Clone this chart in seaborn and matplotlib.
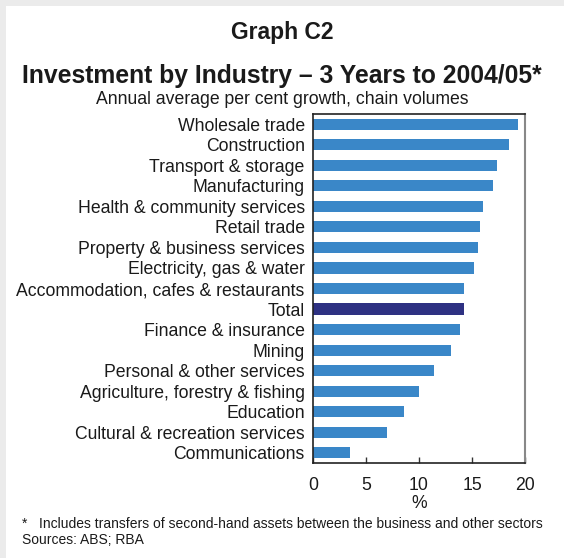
import matplotlib
matplotlib.use("Agg")
import matplotlib.pyplot as plt
import seaborn as sns
import pandas as pd
from matplotlib.patches import Rectangle

industries = [
    "Wholesale trade", "Construction", "Transport & storage", "Manufacturing",
    "Health & community services", "Retail trade", "Property & business services",
    "Electricity, gas & water", "Accommodation, cafes & restaurants", "Total",
    "Finance & insurance", "Mining", "Personal & other services",
    "Agriculture, forestry & fishing", "Education", "Cultural & recreation services",
    "Communications",
]
growth = [19.3, 18.5, 17.4, 17.0, 16.0, 15.8, 15.6, 15.2, 14.25, 14.25,
          13.9, 13.0, 11.4, 10.0, 8.6, 7.0, 3.5]
x_ticks = [0, 5, 10, 15, 20]

BAR = "#3a87c8"
TOTAL = "#2e3182"
TEXT = "#1a1a1a"

sns.set_style("white")
plt.rcParams["font.family"] = ["Liberation Sans", "DejaVu Sans"]

df = pd.DataFrame({"industry": industries, "growth": growth})
palette = {name: (TOTAL if name == "Total" else BAR) for name in industries}

fig = plt.figure(figsize=(5.64, 5.58), dpi=100)
fig.patch.set_facecolor("#ebebeb")
fig.patches.append(Rectangle((6 / 564, 0), 1, 1 - 6 / 558, transform=fig.transFigure,
                             facecolor="white", edgecolor="none", zorder=-5))

ax = fig.add_axes([313 / 564, 1 - 463 / 558, 212 / 564, 349 / 558])
ax.set_zorder(2)
sns.barplot(data=df, x="growth", y="industry", hue="industry", palette=palette,
            legend=False, width=0.54, ax=ax, saturation=1, linewidth=0)

ax.set_xlim(0, 20)
ax.set_ylim(16.5, -0.5)
ax.set_xticks(x_ticks)
ax.set_xticklabels([str(t) for t in x_ticks], fontsize=12.7, color=TEXT)
ax.tick_params(axis="x", direction="in", length=4, width=1, color="#333333", pad=10, bottom=True)
ax.tick_params(axis="y", length=0, labelsize=12.7, labelcolor=TEXT, pad=6)
ax.set_xlabel("%", fontsize=12.7, color=TEXT, labelpad=1)
ax.set_ylabel("")
for side in ["left", "top", "bottom"]:
    ax.spines[side].set_color("#222222")
    ax.spines[side].set_linewidth(1.2)
ax.spines["right"].set_color("#888888")
ax.spines["right"].set_linewidth(1.5)

fig.text(0.5, 1 - 32 / 558, "Graph C2", ha="center", va="center",
         fontsize=16.5, fontweight="bold", color=TEXT)
fig.text(0.5, 1 - 76 / 558, "Investment by Industry \u2013 3 Years to 2004/05*", ha="center",
         va="center", fontsize=17.8, fontweight="bold", color=TEXT)
fig.text(0.5, 1 - 100 / 558, "Annual average per cent growth, chain volumes", ha="center",
         va="center", fontsize=12.7, color=TEXT)
fig.text(22 / 564, 1 - 524 / 558,
         "*   Includes transfers of second-hand assets between the business and other sectors",
         ha="left", va="center", fontsize=10, color=TEXT)
fig.text(22 / 564, 1 - 540 / 558, "Sources: ABS; RBA", ha="left", va="center",
         fontsize=10, color=TEXT)

fig.savefig("out.png", dpi=100, facecolor=fig.get_facecolor())
